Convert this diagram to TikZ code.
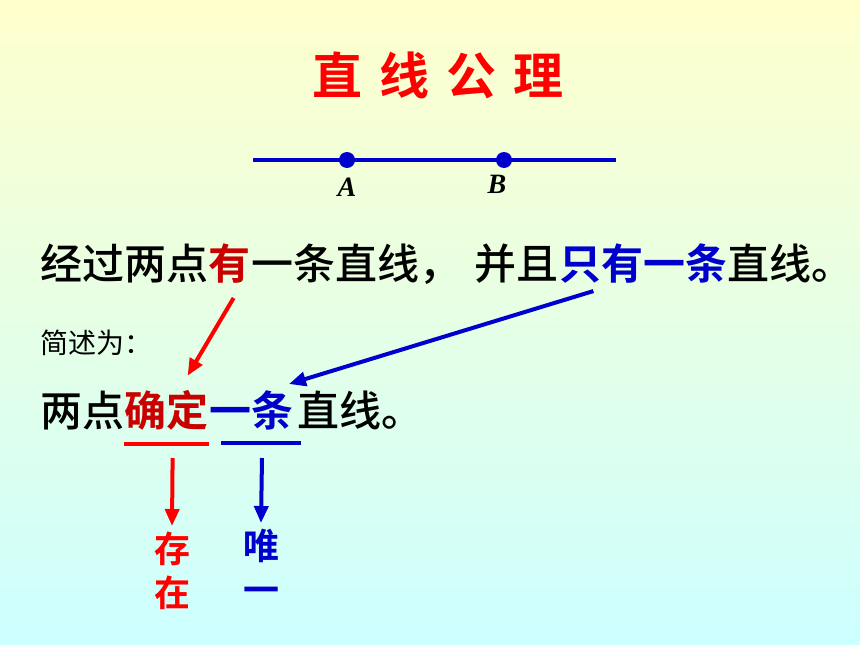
\documentclass[tikz,border=0pt]{standalone}
\usepackage{fontspec}
\usetikzlibrary{positioning, arrows.meta, shadings}
\setmainfont{Liberation Serif}
\newfontfamily\cjk{Noto Sans CJK SC Medium}[BoldFont={Noto Sans CJK SC Bold}]
\newfontfamily\cjkreg{Noto Sans CJK SC}
\definecolor{lineblue}{RGB}{0,0,204}
\definecolor{darkred}{RGB}{200,0,0}
\definecolor{bgtop}{RGB}{255,255,204}
\definecolor{bgbottom}{RGB}{204,255,255}
\tikzstyle{txt} = [inner sep=0pt, anchor=base west, font=\cjk\fontsize{42}{50}\selectfont]
\tikzstyle{hltxt} = [txt, font=\cjk\bfseries\fontsize{42}{50}\selectfont]
\tikzstyle{smalltxt} = [txt, font=\cjkreg\fontsize{28}{34}\selectfont]
\tikzstyle{vtxt} = [inner sep=0pt, anchor=north, align=center, font=\cjk\bfseries\fontsize{36}{44}\selectfont]
\tikzstyle{titletxt} = [inner sep=0pt, anchor=base, text=red, font=\cjk\bfseries\fontsize{50}{60}\selectfont]
\tikzstyle{ptlabel} = [inner sep=0pt, anchor=base, font=\bfseries\itshape\fontsize{28}{34}\selectfont]
\tikzstyle{dot} = [circle, fill=lineblue, inner sep=0pt, minimum size=16pt]
\tikzstyle{redarrow} = [line width=4pt, red, -{Triangle[length=17pt,width=14pt]}]
\tikzstyle{bluearrow} = [redarrow, lineblue]
\tikzstyle{uline} = [line width=4pt]

\begin{document}
\begin{tikzpicture}[x=1pt, y=-1pt]
\shade [top color=bgtop, bottom color=bgbottom] (0,0) rectangle (860,645);
\useasboundingbox (0,0) rectangle (860,645);

\node (title) [titletxt] at (438,94) {直\hspace{17pt}线\hspace{17pt}公\hspace{17pt}理};

% the line AB
\coordinate (lineL) at (253,160);
\coordinate (lineR) at (616,160);
\draw [line width=4pt, lineblue] (lineL) -- (lineR);
\node (A) [dot] at (347,160) {};
\node (B) [dot] at (504,160) {};
\node (Alab) [ptlabel] at (347,196) {A};
\node (Blab) [ptlabel] at (497,193) {B};

% first sentence
\node (l1a) [txt] at (40,279) {经过两点};
\node (you) [hltxt, text=darkred] at (l1a.base east) {有};
\node (l1b) [txt] at (you.base east) {一条直线，\hspace{14pt}并且};
\node (zhiyou) [hltxt, text=lineblue] at (l1b.base east) {只有一条};
\node (l1c) [txt] at (zhiyou.base east) {直线。};

\node (brief) [smalltxt] at (40,353) {简述为：};

% short form
\node (l2a) [txt] at (40,426) {两点};
\node (queding) [hltxt, text=darkred] at (l2a.base east) {确定};
\node (yitiao) [hltxt, text=lineblue] at (queding.base east) {一条};
\node (l2b) [txt] at ([xshift=4pt]yitiao.base east) {直线。};

\draw [uline, red] ([yshift=-18pt]queding.base west) -- ([yshift=-18pt]queding.base east);
\draw [uline, lineblue] ([xshift=12pt,yshift=-17pt]yitiao.base west) -- ([xshift=8pt,yshift=-17pt]yitiao.base east);

\node (cunzai) [vtxt, text=red] at (172,532) {存\\在};
\node (weiyi) [vtxt, text=lineblue] at (261,529) {唯\\一};

\draw [redarrow] ([xshift=4pt,yshift=-15pt]you.south) -- ([xshift=21pt,yshift=14pt]queding.north);
\draw [bluearrow] ([xshift=-50pt,yshift=-8pt]zhiyou.south) -- ([xshift=38pt,yshift=6pt]yitiao.north);
\draw [redarrow] ([xshift=6pt,yshift=-32pt]queding.base) -- ([yshift=6pt]cunzai.north);
\draw [bluearrow] ([xshift=11pt,yshift=-32pt]yitiao.base) -- ([yshift=6pt]weiyi.north);

\end{tikzpicture}
\end{document}
